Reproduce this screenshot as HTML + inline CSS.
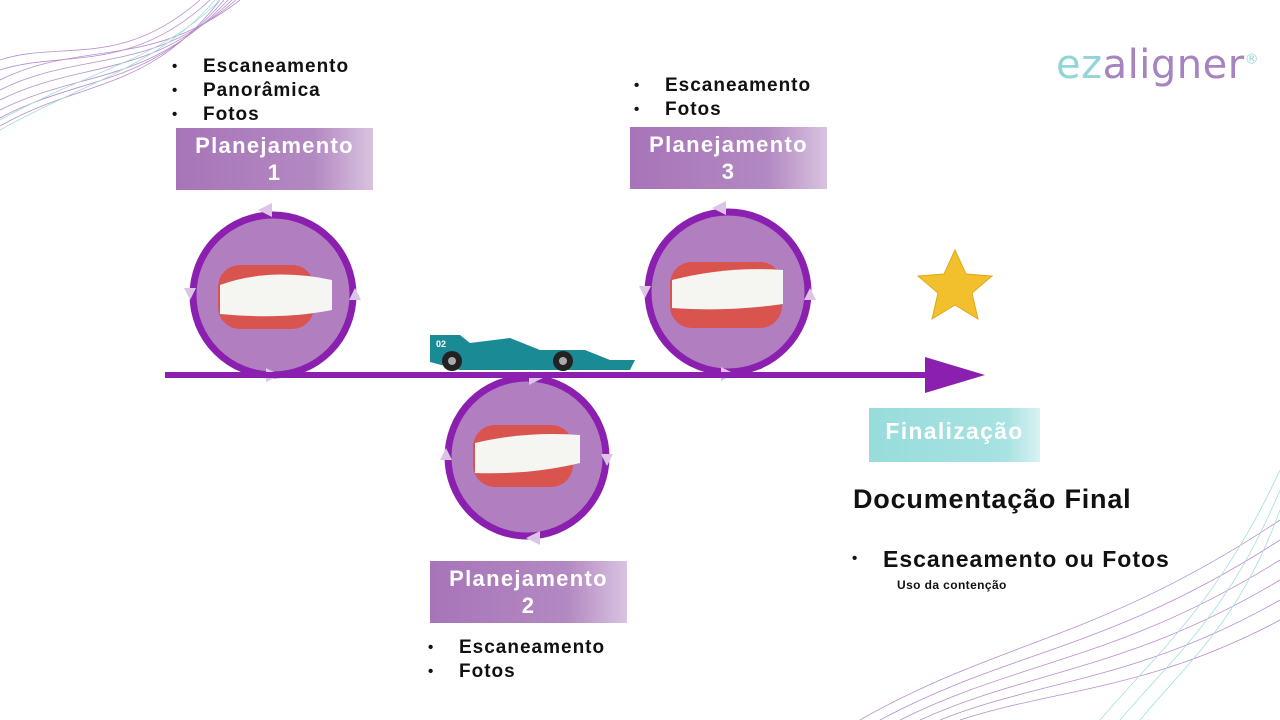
<!DOCTYPE html>
<html><head><meta charset="utf-8"><style>
body{margin:0;width:1280px;height:720px;background:#fff;overflow:hidden;position:relative;font-family:"Liberation Sans",sans-serif}
.t{position:absolute;font-weight:bold;color:#111;white-space:nowrap}
.box{position:absolute;background:linear-gradient(90deg,#a774b8 0%,#b389c2 70%,#d9c3e0 100%);color:#fff;font-weight:bold;font-size:22px;letter-spacing:1.3px;text-align:center;line-height:27px;padding-top:4px;box-sizing:border-box}
ul{margin:0;padding:0;list-style:none}
li{position:relative;padding-left:31px;font-size:19px;line-height:24px;letter-spacing:1px}
li:before{content:"•";position:absolute;left:0;font-size:15px;letter-spacing:0}
</style></head><body>
<svg width="1280" height="720" style="position:absolute;left:0;top:0">
<g fill="none" stroke-width="0.8" opacity="0.7">
<path d="M0 80 C80 40 150 70 240 0" stroke="#9b5fb8"/><path d="M0 90 C80 50 150 75 236 0" stroke="#9b5fb8"/>
<path d="M0 100 C80 60 150 80 232 0" stroke="#9b5fb8"/><path d="M0 110 C80 70 150 85 228 0" stroke="#9b5fb8"/>
<path d="M0 118 C80 75 150 88 224 0" stroke="#9b5fb8"/><path d="M0 126 C80 80 150 92 220 0" stroke="#9b5fb8"/>
<path d="M0 120 C90 70 160 60 220 0" stroke="#7fd0d0"/><path d="M0 130 C90 80 160 65 215 0" stroke="#7fd0d0"/>
<path d="M0 60 C60 40 120 70 200 0" stroke="#9b5fb8"/><path d="M0 70 C60 50 130 75 210 0" stroke="#9b5fb8"/>
<path d="M860 720 C1000 640 1100 640 1280 520" stroke="#9b5fb8"/><path d="M880 720 C1010 650 1110 650 1280 540" stroke="#9b5fb8"/>
<path d="M900 720 C1020 660 1120 660 1280 560" stroke="#9b5fb8"/><path d="M920 720 C1030 670 1130 670 1280 580" stroke="#9b5fb8"/>
<path d="M940 720 C1040 680 1140 680 1280 600" stroke="#9b5fb8"/><path d="M960 720 C1050 690 1150 690 1280 620" stroke="#9b5fb8"/>
<path d="M1100 720 C1160 650 1220 600 1280 470" stroke="#7fd0d0"/><path d="M1120 720 C1180 650 1230 610 1280 490" stroke="#7fd0d0"/>
<path d="M1140 720 C1190 660 1240 620 1280 510" stroke="#7fd0d0"/>
</g>
<g>
<circle cx="273" cy="295" r="80" fill="#b17ec0" stroke="#8a1fb0" stroke-width="7"/>
<circle cx="527" cy="457" r="79" fill="#b17ec0" stroke="#8a1fb0" stroke-width="7"/>
<circle cx="728" cy="292" r="80" fill="#b17ec0" stroke="#8a1fb0" stroke-width="7"/>
</g>
<g fill="#dcc4e6">
<path d="M258 210 l14 -7 v14z"/><path d="M190 300 l-6 -12 h12z"/><path d="M355 288 l6 12 h-12z"/><path d="M280 375 l-14 7 v-14z"/>
<path d="M712 208 l14 -7 v14z"/><path d="M645 298 l-6 -12 h12z"/><path d="M810 288 l6 12 h-12z"/><path d="M735 374 l-14 7 v-14z"/>
<path d="M543 378 l-14 -7 v14z"/><path d="M446 448 l-6 12 h12z"/><path d="M607 466 l6 -12 h-12z"/><path d="M526 538 l14 -7 v14z"/>
</g>
<rect x="165" y="372" width="770" height="6" fill="#8a1fb0"/>
<path d="M925 357 L985 375 L925 393z" fill="#8a1fb0"/>
<g>
<rect x="218" y="265" width="96" height="64" rx="22" fill="#d9534f"/>
<path d="M220 285 q50 -18 112 -5 v30 q-50 10 -112 4z" fill="#f5f5f2"/>
<rect x="473" y="425" width="100" height="62" rx="22" fill="#d9534f"/>
<path d="M475 443 q50 -12 105 -8 v28 q-50 12 -105 10z" fill="#f5f5f2"/>
<rect x="670" y="262" width="112" height="66" rx="22" fill="#d9534f"/>
<path d="M672 280 q55 -14 111 -10 v34 q-55 8 -111 4z" fill="#f5f5f2"/>
</g>
<g>
<path d="M430 335 h30 l10 8 l40 -5 l30 12 h45 l25 10 h25 l-5 10 h-170 l-30 -8z" fill="#1a8a95"/>
<circle cx="452" cy="361" r="10" fill="#222"/><circle cx="452" cy="361" r="4" fill="#aaa"/>
<circle cx="563" cy="361" r="10" fill="#222"/><circle cx="563" cy="361" r="4" fill="#aaa"/>
<text x="436" y="347" font-size="9" fill="#fff" font-weight="bold" font-family="Liberation Sans">02</text>
</g>
<path d="M955 250 l11 24 26 2 -20 17 6 26 -23 -14 -23 14 6 -26 -20 -17 26 -2z" fill="#f2c02c" stroke="#e0a81c"/>
</svg>
<div style="position:absolute;left:1056px;top:42px;font-size:40px;letter-spacing:0.5px;font-family:'DejaVu Sans',sans-serif"><span style="color:#93d5d6">ez</span><span style="color:#a783c0">aligner</span><sup style="font-size:14px;color:#93d5d6">®</sup></div>
<ul class="t" style="left:172px;top:55px"><li>Escaneamento</li><li>Panorâmica</li><li>Fotos</li></ul>
<ul class="t" style="left:634px;top:74px"><li>Escaneamento</li><li>Fotos</li></ul>
<ul class="t" style="left:428px;top:636px"><li>Escaneamento</li><li>Fotos</li></ul>
<div class="box" style="left:176px;top:128px;width:197px;height:62px">Planejamento<br>1</div>
<div class="box" style="left:630px;top:127px;width:197px;height:62px">Planejamento<br>3</div>
<div class="box" style="left:430px;top:561px;width:197px;height:62px">Planejamento<br>2</div>
<div class="box" style="left:869px;top:408px;width:171px;height:54px;background:linear-gradient(90deg,#98dcdc,#a8e2e2 80%,#d8f2f2);font-size:23px;line-height:46px;padding:0">Finalização</div>
<div class="t" style="left:853px;top:484px;font-size:27px;letter-spacing:0.8px">Documentação Final</div>
<ul class="t" style="left:852px;top:546px"><li style="font-size:23px;line-height:26px;letter-spacing:1px">Escaneamento ou Fotos</li></ul>
<div class="t" style="left:897px;top:578px;font-size:12px;letter-spacing:0.4px">Uso da contenção</div>
</body></html>
